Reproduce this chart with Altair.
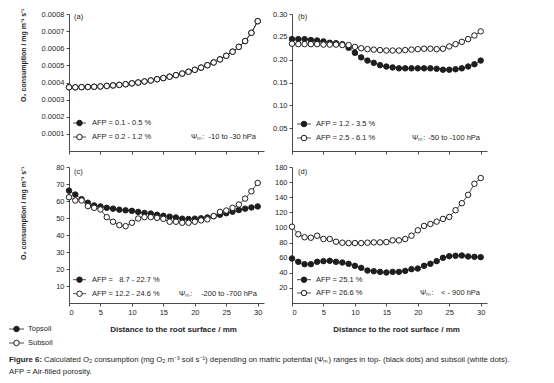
import altair as alt
import pandas as pd

# ---------------- data ----------------
dist = list(range(31))

a_top = [0.000372, 0.000372, 0.000373, 0.000374, 0.000375, 0.000377, 0.000380, 0.000383,
         0.000386, 0.000390, 0.000395, 0.000400, 0.000406, 0.000412, 0.000419, 0.000426,
         0.000434, 0.000443, 0.000452, 0.000463, 0.000474, 0.000487, 0.000501, 0.000517,
         0.000535, 0.000556, 0.000580, 0.000608, 0.000642, 0.000690, 0.000758]
a_sub = [0.000372, 0.000372, 0.000373, 0.000374, 0.000375, 0.000377, 0.000380, 0.000383,
         0.000386, 0.000390, 0.000395, 0.000400, 0.000406, 0.000412, 0.000419, 0.000426,
         0.000434, 0.000443, 0.000452, 0.000463, 0.000474, 0.000487, 0.000501, 0.000517,
         0.000535, 0.000556, 0.000580, 0.000608, 0.000642, 0.000690, 0.000758]
b_top = [0.245, 0.245, 0.245, 0.243, 0.242, 0.240, 0.237, 0.236, 0.234, 0.226, 0.215,
         0.205, 0.198, 0.193, 0.188, 0.185, 0.183, 0.181, 0.181, 0.181, 0.181, 0.181,
         0.181, 0.180, 0.178, 0.178, 0.179, 0.181, 0.185, 0.190, 0.198]
b_sub = [0.235, 0.234, 0.234, 0.234, 0.234, 0.233, 0.233, 0.233, 0.232, 0.232, 0.228,
         0.225, 0.223, 0.222, 0.221, 0.220, 0.220, 0.220, 0.221, 0.222, 0.223, 0.224,
         0.224, 0.223, 0.224, 0.229, 0.234, 0.239, 0.245, 0.253, 0.262]
c_top = [66.1, 63.8, 61.1, 59.0, 57.4, 56.8, 56.0, 55.5, 54.9, 54.5, 54.2, 53.6, 53.0,
         52.6, 51.9, 51.3, 50.8, 50.3, 49.6, 49.4, 49.6, 49.8, 50.3, 51.1, 51.9, 52.8,
         53.7, 54.7, 55.5, 56.2, 56.8]
c_sub = [62.2, 60.3, 60.3, 57.0, 56.0, 55.0, 50.5, 47.8, 45.8, 45.2, 47.2, 49.7, 50.5,
         50.5, 50.1, 49.5, 47.8, 47.8, 47.2, 47.2, 47.8, 48.6, 49.2, 51.1, 53.6, 54.4,
         56.0, 57.9, 61.4, 65.7, 70.6]
d_top = [58.9, 54.5, 51.4, 51.4, 54.5, 55.4, 55.8, 54.5, 53.6, 51.8, 49.2, 46.5, 43.0,
         42.1, 41.2, 40.3, 41.2, 41.2, 42.5, 44.8, 45.6, 49.2, 51.8, 55.4, 59.8, 62.0,
         62.5, 62.9, 61.6, 61.1, 60.7]
d_sub = [101.0, 91.0, 87.0, 86.4, 89.0, 84.7, 84.7, 81.1, 79.8, 79.3, 79.3, 79.3, 79.8,
         80.2, 80.2, 80.7, 82.9, 82.9, 84.7, 89.1, 96.2, 102.0, 104.6, 107.7, 111.3,
         113.9, 122.8, 132.1, 143.2, 157.8, 165.4]

panel_labels = ["(a)", "(b)", "(c)", "(d)"]
afp_top = ["AFP = 0.1 - 0.5 %", "AFP = 1.2 - 3.5 %", "AFP =\u00a0\u00a0 8.7 - 22.7 %", "AFP = 25.1 %"]
afp_sub = ["AFP = 0.2 - 1.2 %", "AFP = 2.5 - 6.1 %", "AFP = 12.2 - 24.6 %", "AFP = 26.6 %"]
psi_label = "\u03a8\u2098:"
psi_ranges = ["-10 to -30 hPa", "-50 to -100 hPa", "-200 to -700 hPa", "< - 900 hPa"]

x_ticks = [0, 5, 10, 15, 20, 25, 30]
y_ticks_a = [0.0001, 0.0002, 0.0003, 0.0004, 0.0005, 0.0006, 0.0007, 0.0008]
y_ticks_b = [0.05, 0.10, 0.15, 0.20, 0.25, 0.30]
y_ticks_c = [10, 20, 30, 40, 50, 60, 70, 80]
y_ticks_d = [20, 40, 60, 80, 100, 120, 140, 160, 180]

y_title = "O\u2082 consumption / mg m\u207b\u00b3 s\u207b\u00b9"
x_title = "Distance to the root surface / mm"
soil_names = ["Topsoil", "Subsoil"]
fig_num = "Figure 6:"
caption_1 = ("Calculated O\u2082 consumption (mg O\u2082 m\u207b\u00b3 soil s\u207b\u00b9) depending on matric "
             "potential (\u03a8\u2098) ranges in top- (black dots) and subsoil (white dots).")
caption_2 = "AFP = Air-filled porosity."

# ---------------- style ----------------
FONT = "Liberation Sans"
INK = "#1e1e1e"
W = 195
H1 = 137
H2 = 136


def one():
    return alt.Chart(alt.Data(values=[{}]))


def glyph(x0, x1, xc, yy, filled):
    rule = one().mark_rule(color=INK, strokeWidth=0.8).encode(
        x=alt.value(x0), x2=alt.value(x1), y=alt.value(yy))
    pt = one().mark_point(shape="circle", filled=True, fill=INK if filled else "white",
                          stroke=INK, strokeWidth=1, size=30, opacity=1).encode(
        x=alt.value(xc), y=alt.value(yy))
    return [rule, pt]


def label(text, xx, yy, size=7.5, align="left", weight="normal"):
    return one().mark_text(align=align, baseline="middle", font=FONT, fontSize=size,
                           fontWeight=weight, color=INK).encode(
        x=alt.value(xx), y=alt.value(yy), text=alt.value(text))


def panel(i, top, sub, ydom, yticks, yfmt, height, bottom, left, leg_y, gx, psi_x, titleY=0):
    df = pd.DataFrame({"d": dist + dist, "v": top + sub,
                       "soil": [soil_names[0]] * len(top) + [soil_names[1]] * len(sub)})
    base = alt.Chart(df)
    x_axis = alt.Axis(values=x_ticks, labels=bottom, grid=False, tickSize=3, labelPadding=2,
                      labelFont=FONT, labelFontSize=7.5, labelColor=INK, domainColor=INK,
                      tickColor=INK, domainWidth=0.8, tickWidth=0.8,
                      titleFont=FONT, titleFontSize=8, titleFontWeight="bold", titleColor=INK,
                      titleX=104, titleY=22, titleBaseline="top", titleAnchor="start",
                      titleAlign="center")
    y_axis = alt.Axis(values=yticks, format=yfmt, grid=False, tickSize=3, labelPadding=2,
                      labelFont=FONT, labelFontSize=7.5, labelColor=INK, domainColor=INK,
                      tickColor=INK, domainWidth=0.8, tickWidth=0.8,
                      titleFont=FONT, titleFontSize=7, titleFontWeight="bold", titleColor=INK,
                      titleX=-46, titleY=titleY, titleAngle=270, titleAlign="right",
                      titleBaseline="middle", titleAnchor="start")
    x = alt.X("d:Q", scale=alt.Scale(domain=[0, 31], nice=False, zero=False), axis=x_axis,
              title=x_title if bottom else None)
    y = alt.Y("v:Q", scale=alt.Scale(domain=ydom, nice=False), axis=y_axis,
              title=y_title if left else None)
    line_t = base.transform_filter(alt.datum.soil == soil_names[0]).mark_line(
        color=INK, strokeWidth=0.8).encode(x=x, y=y)
    pts_t = base.transform_filter(alt.datum.soil == soil_names[0]).mark_point(
        shape="circle", filled=True, fill=INK, stroke=INK, strokeWidth=1, size=30,
        opacity=1).encode(x=x, y=y)
    line_s = base.transform_filter(alt.datum.soil == soil_names[1]).mark_line(
        color=INK, strokeWidth=0.8).encode(x=x, y=y)
    pts_s = base.transform_filter(alt.datum.soil == soil_names[1]).mark_point(
        shape="circle", filled=True, fill="white", stroke=INK, strokeWidth=1, size=30,
        opacity=1).encode(x=x, y=y)
    layers = [line_t, pts_t, line_s, pts_s]
    # panel label
    layers.append(label(panel_labels[i], gx[0] + 1, 3 if i < 2 else 5))
    # in-panel legend
    layers += glyph(gx[0], gx[1], gx[2], leg_y[0], True)
    layers += glyph(gx[0], gx[1], gx[2], leg_y[1], False)
    layers.append(label(afp_top[i], gx[3], leg_y[0]))
    layers.append(label(afp_sub[i], gx[3], leg_y[1]))
    layers.append(label(psi_label, psi_x[0], leg_y[1]))
    layers.append(label(psi_ranges[i], psi_x[1], leg_y[1], align="right"))
    # invisible bound keeper (keeps columns aligned)
    layers.append(one().mark_rule(opacity=0, strokeOpacity=0).encode(
        x=alt.value(-60 if left else -25), y=alt.value(0), y2=alt.value(4)))
    if i == 2:
        # bottom-left series key
        layers += glyph(-60, -45, -52.5, height + 26, True)
        layers += glyph(-60, -45, -52.5, height + 40, False)
        layers.append(label(soil_names[0], -41, height + 26))
        layers.append(label(soil_names[1], -41, height + 40))
    return alt.layer(*layers).properties(width=W, height=height)


pa = panel(0, a_top, a_sub, [0, 0.0008], y_ticks_a, ".4f", H1, False, True,
           [109, 123], [4, 17, 10.5, 23], [122, 187], titleY=-6)
pb = panel(1, b_top, b_sub, [0, 0.30], y_ticks_b, ".2f", H1, False, False,
           [110, 124], [5, 19, 12, 24], [120, 188])
pc = panel(2, c_top, c_sub, [0, 80], y_ticks_c, "d", H2, True, True,
           [112.7, 126.7], [4, 17, 10.5, 23], [110, 188], titleY=-1)
pd_ = panel(3, d_top, d_sub, [0, 180], y_ticks_d, "d", H2, True, False,
            [112.7, 126], [5, 19, 12, 24], [128, 188])

CX = -60  # caption left, relative to the panels' origin
foot = alt.layer(
    one().mark_text(align="left", baseline="middle", font=FONT, fontSize=7.8, fontWeight="bold",
                    color=INK).encode(x=alt.value(CX), y=alt.value(1), text=alt.value(fig_num)),
    one().mark_text(align="left", baseline="middle", font=FONT, fontSize=7.8,
                    color=INK).encode(x=alt.value(CX + 35), y=alt.value(1), text=alt.value(caption_1)),
    one().mark_text(align="left", baseline="middle", font=FONT, fontSize=7.8,
                    color=INK).encode(x=alt.value(CX), y=alt.value(13), text=alt.value(caption_2)),
).properties(width=300, height=16)

row1 = alt.hconcat(pa, pb, spacing=3)
row2 = alt.hconcat(pc, pd_, spacing=3)
chart = alt.vconcat(row1, row2, foot, spacing=8).properties(
    padding={"left": 0, "top": 0, "right": 0, "bottom": 0}
).configure_view(stroke=None)

chart.save("out.html", embed_options={"renderer": "svg", "actions": False})
